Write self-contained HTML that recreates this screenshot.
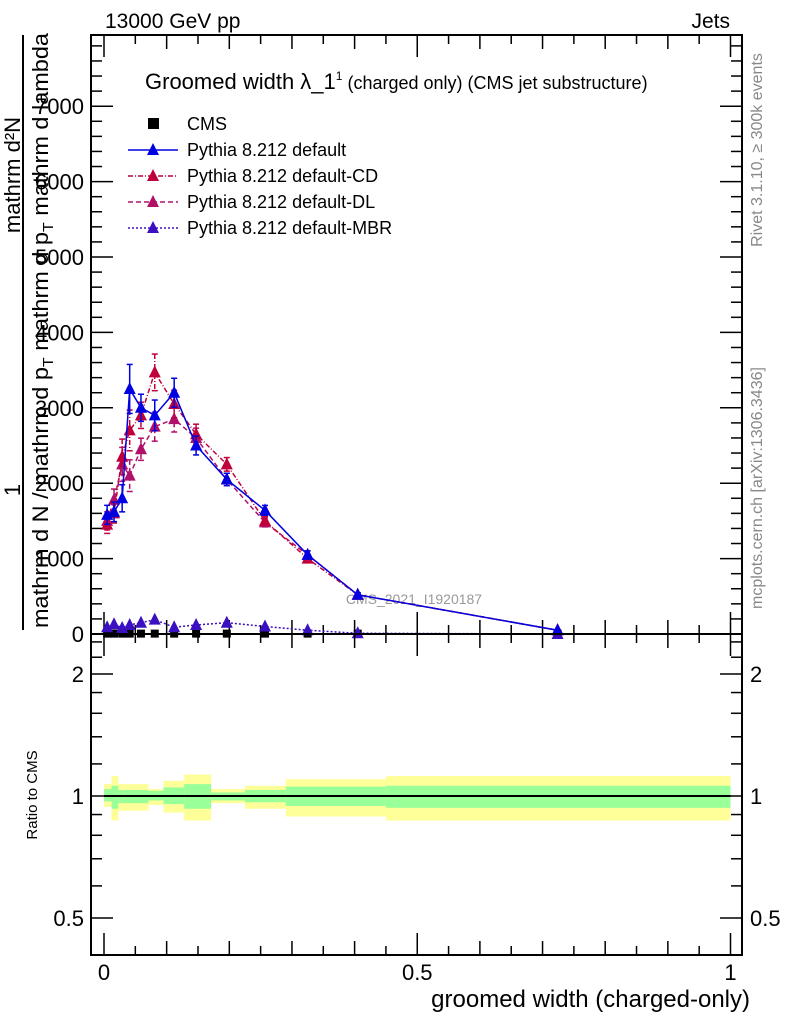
<!DOCTYPE html>
<html><head><meta charset="utf-8"><style>
body{margin:0;background:#fff;width:786px;height:1024px;overflow:hidden}
svg{font-family:"Liberation Sans",sans-serif}
</style></head><body>
<svg id="c" width="786" height="1024" viewBox="0 0 786 1024">
<text x="105" y="28" font-size="21">13000 GeV pp</text>
<text x="730" y="28" font-size="21" text-anchor="end">Jets</text>
<text x="145" y="89" font-size="22">Groomed width λ_1<tspan font-size="12" dy="-9">1</tspan><tspan font-size="18" dy="9"> (charged only) (CMS jet substructure)</tspan></text>
<text x="414" y="604" font-size="14" fill="#999" text-anchor="middle">CMS_2021_I1920187</text>
<g font-size="22">
<text transform="translate(20,175) rotate(-90)" text-anchor="middle">mathrm d²N</text>
<text transform="translate(20,490) rotate(-90)" text-anchor="middle">1</text>
<line x1="23" y1="35" x2="23" y2="630" stroke="#000" stroke-width="2"/>
<text transform="translate(48,628) rotate(-90)" textLength="595" lengthAdjust="spacingAndGlyphs">mathrm d N / mathrm d p<tspan font-size="15" dy="5">T</tspan><tspan dy="-5"> mathrm d p</tspan><tspan font-size="15" dy="5">T</tspan><tspan dy="-5"> mathrm d lambda</tspan></text>
</g>
<text transform="translate(762,150) rotate(-90)" font-size="16" fill="#888" text-anchor="middle">Rivet 3.1.10, ≥ 300k events</text>
<text transform="translate(762,488) rotate(-90)" font-size="16" fill="#888" text-anchor="middle">mcplots.cern.ch [arXiv:1306.3436]</text>
<text transform="translate(37,795) rotate(-90)" font-size="15" text-anchor="middle">Ratio to CMS</text>
<text x="750" y="1007" font-size="24" text-anchor="end">groomed width (charged-only)</text>
<g id="main"></g><g id="ratio"></g><g id="legend"></g>
</svg>
<script>
const xVals=[0.005,0.016,0.029,0.041,0.059,0.081,0.112,0.147,0.196,0.257,0.325,0.405,0.724];
const cmsVals=[5,5,5,5,5,5,5,5,5,5,5,5,5];
const defVals=[1580,1620,1800,3250,3000,2900,3200,2500,2050,1640,1050,520,50];
const cdVals=[1450,1600,2350,2700,2900,3470,3050,2650,2250,1500,1000,520,50];
const dlVals=[1500,1780,2250,2100,2450,2750,2850,2600,2050,1480,1050,520,50];
const mbrVals=[90,130,80,120,150,190,90,120,150,100,50,10,0];
const errFrac=[0.08,0.08,0.1,0.1,0.06,0.07,0.06,0.05,0.04,0.04,0.05,0.05,0.1];
const binEdges=[0,0.012,0.023,0.033,0.071,0.095,0.128,0.171,0.225,0.290,0.450,1.0];
const yellowHi=[1.07,1.12,1.07,1.07,1.04,1.09,1.13,1.04,1.06,1.10,1.12];
const yellowLo=[0.94,0.87,0.92,0.92,0.95,0.91,0.87,0.96,0.93,0.89,0.87];
const greenHi=[1.04,1.06,1.035,1.035,1.03,1.05,1.07,1.02,1.035,1.055,1.06];
const greenLo=[0.97,0.93,0.96,0.96,0.975,0.955,0.93,0.975,0.965,0.945,0.935];
const yTicks=[0,1000,2000,3000,4000,5000,6000,7000];
const rTicks=[0.5,1,2];
const xTicks=[0,0.5,1];

const NS="http://www.w3.org/2000/svg";
const L=91,R=742,T=35,MB=634,RB=955;
const X=v=>104+v*626.5;
const Y=v=>634-v*0.0754;
const RY=v=>796-Math.log(v)*176;
function mk(p,tag,a){const e=document.createElementNS(NS,tag);for(const k in a)e.setAttribute(k,a[k]);p.appendChild(e);return e;}
const main=document.getElementById('main'),ratio=document.getElementById('ratio'),leg=document.getElementById('legend');

for(let i=0;i<binEdges.length-1;i++){
 const x0=X(binEdges[i]),x1=X(binEdges[i+1]);
 const y=mk(ratio,'rect',{x:x0,y:RY(yellowHi[i]),width:x1-x0,height:RY(yellowLo[i])-RY(yellowHi[i]),fill:'#ffff99'});
 
 
 const g=mk(ratio,'rect',{x:x0,y:RY(greenHi[i]),width:x1-x0,height:RY(greenLo[i])-RY(greenHi[i]),fill:'#99ff99'});
 
 
}
const rl=mk(ratio,'line',{x1:X(0),x2:X(1),y1:RY(1),y2:RY(1),stroke:'#000','stroke-width':2});



const f1=mk(main,'rect',{x:L,y:T,width:R-L,height:MB-T,fill:'none',stroke:'#000','stroke-width':2});


const f2=mk(ratio,'rect',{x:L,y:MB,width:R-L,height:RB-MB,fill:'none',stroke:'#000','stroke-width':2});



for(let v=0;v<=7800;v+=200){const big=v%1000===0,w=big?22:11,y=Y(v);
 mk(main,'line',{x1:L,x2:L+w,y1:y,y2:y,stroke:'#000','stroke-width':1.5});
 mk(main,'line',{x1:R,x2:R-w,y1:y,y2:y,stroke:'#000','stroke-width':1.5});}
yTicks.forEach(v=>{const t=mk(main,'text',{x:84,y:Y(v)+8,'font-size':22,'text-anchor':'end'});t.textContent=v;
 
 });
for(let k=0;k<=20;k++){const v=k*0.05,x=X(v),h=k%10===0?22:(k%2===0?14:9);
 mk(main,'line',{x1:x,x2:x,y1:MB,y2:MB-h,stroke:'#000','stroke-width':1.5});
 mk(main,'line',{x1:x,x2:x,y1:T,y2:T+h,stroke:'#000','stroke-width':1.5});
 mk(ratio,'line',{x1:x,x2:x,y1:RB,y2:RB-h,stroke:'#000','stroke-width':1.5});
 mk(ratio,'line',{x1:x,x2:x,y1:MB,y2:MB+h,stroke:'#000','stroke-width':1.5});}
xTicks.forEach(v=>{const t=mk(ratio,'text',{x:X(v),y:980,'font-size':22,'text-anchor':'middle'});t.textContent=v;
 
 });
const minor=[0.5,0.6,0.7,0.8,0.9,1,1.2,1.4,1.6,1.8,2,2.2,2.4];
minor.forEach(v=>{const big=rTicks.includes(v),w=big?22:11,y=RY(v);
 mk(ratio,'line',{x1:L,x2:L+w,y1:y,y2:y,stroke:'#000','stroke-width':1.5});
 mk(ratio,'line',{x1:R,x2:R-w,y1:y,y2:y,stroke:'#000','stroke-width':1.5});});
rTicks.forEach(v=>{const a=mk(ratio,'text',{x:84,y:RY(v)+8,'font-size':22,'text-anchor':'end'});a.textContent=v;
 
 
 const b=mk(ratio,'text',{x:750,y:RY(v)+8,'font-size':22});b.textContent=v;
 
 });

function tri(p,x,y,c){return mk(p,'polygon',{points:`${x},${y-7} ${x-6},${y+5} ${x+6},${y+5}`,fill:c});}
function series(vals,color,dash,name,err){
 const g=mk(main,'g',{});
 
 
 const pts=vals.map((v,i)=>X(xVals[i])+','+Y(v)).join(' ');
 mk(g,'polyline',{points:pts,fill:'none',stroke:color,'stroke-width':1.5,'stroke-dasharray':dash});
 vals.forEach((v,i)=>{const x=X(xVals[i]);
  if(err){const e=v*errFrac[i];
   mk(g,'line',{x1:x,x2:x,y1:Y(v+e),y2:Y(v-e),stroke:color,'stroke-width':1.5,'stroke-dasharray':dash});
   mk(g,'line',{x1:x-3,x2:x+3,y1:Y(v+e),y2:Y(v+e),stroke:color,'stroke-width':1.5});
   mk(g,'line',{x1:x-3,x2:x+3,y1:Y(v-e),y2:Y(v-e),stroke:color,'stroke-width':1.5});}
  tri(g,x,Y(v),color);});
}
cmsVals.forEach((v,i)=>{const r=mk(main,'rect',{x:X(xVals[i])-4,y:Y(v)-4,width:8,height:8,fill:'#000'});
 
 });
series(mbrVals,'#3a10c0','2,2','series-mbr',false);
series(dlVals,'#b0106a','5,3','series-dl',true);
series(cdVals,'#c0003a','5,2,1,2','series-cd',true);
series(defVals,'#0000e0','','series-default',true);

const items=[['CMS','#000',null],['Pythia 8.212 default','#0000e0',''],['Pythia 8.212 default-CD','#c0003a','5,2,1,2'],['Pythia 8.212 default-DL','#b0106a','5,3'],['Pythia 8.212 default-MBR','#3a10c0','2,2']];
items.forEach((it,i)=>{const y=124+i*26;const g=mk(leg,'g',{});
 
 
 if(it[2]===null){mk(g,'rect',{x:148,y:y-6,width:11,height:11,fill:'#000'});}
 else{mk(g,'line',{x1:128,x2:178,y1:y,y2:y,stroke:it[1],'stroke-width':1.5,'stroke-dasharray':it[2]});tri(g,153,y,it[1]);}
 const t=mk(g,'text',{x:187,y:y+6,'font-size':18});t.textContent=it[0];});
</script>
</body></html>
